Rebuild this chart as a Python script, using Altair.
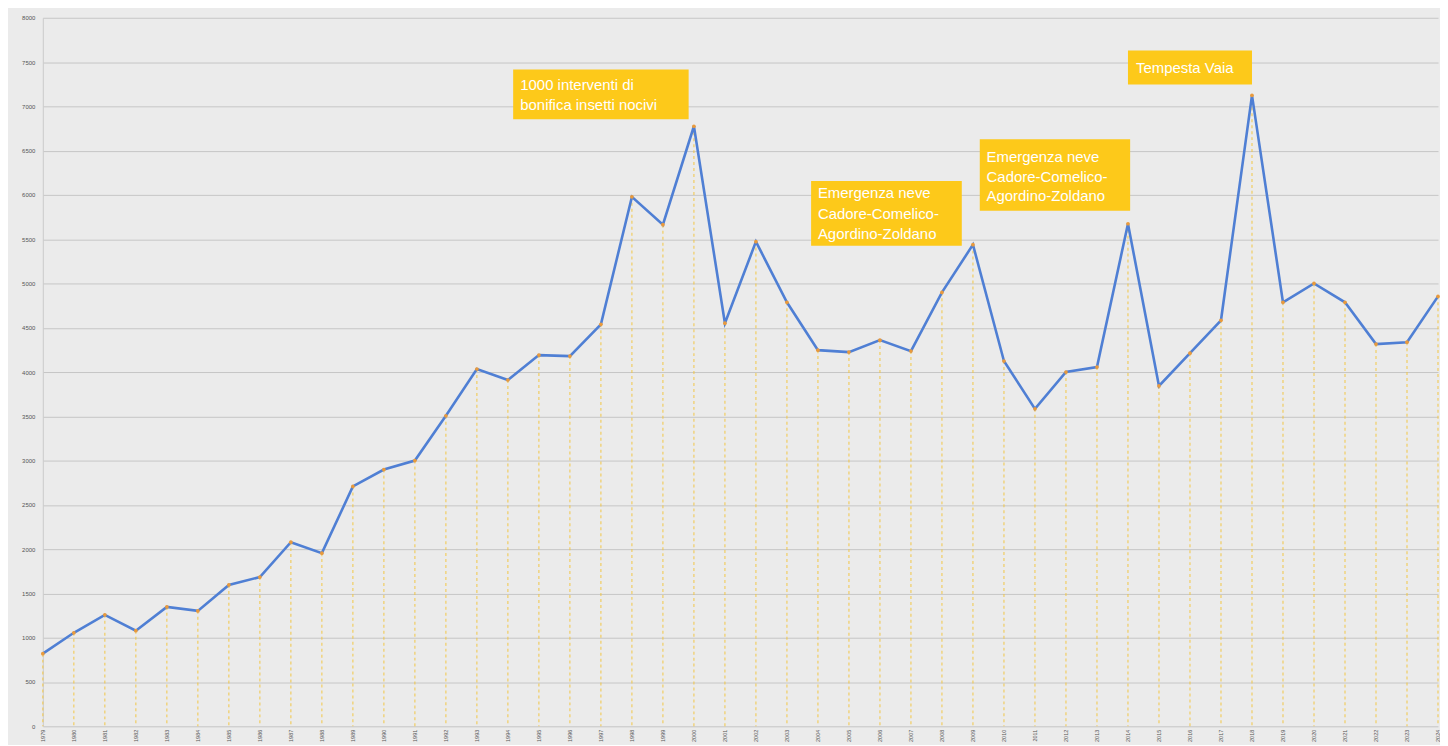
import altair as alt
import pandas as pd

years = list(range(1979, 2025))
values = [820, 1056, 1258, 1079, 1348, 1303, 1596, 1685, 2079, 1955,
          2708, 2899, 3000, 3506, 4034, 3910, 4191, 4180, 4539, 5978,
          5663, 6775, 4551, 5472, 4787, 4247, 4225, 4360, 4236, 4899,
          5438, 4124, 3584, 4000, 4056, 5674, 3843, 4213, 4584, 7124,
          4787, 5000, 4787, 4315, 4337, 4854]

# annotation boxes (in data units)
box_x = [1994.17, 2003.78, 2009.22, 2014.0]
box_x2 = [1999.83, 2008.64, 2014.07, 2018.0]
box_y = [7416, 6157, 6629, 7629]
box_y2 = [6854, 5427, 5820, 7247]

# annotation text lines
text_lines = ["1000 interventi di", "bonifica insetti nocivi",
              "Emergenza neve", "Cadore-Comelico-", "Agordino-Zoldano",
              "Emergenza neve", "Cadore-Comelico-", "Agordino-Zoldano",
              "Tempesta Vaia"]
text_x = [1994.4, 1994.4, 2004.0, 2004.0, 2004.0, 2009.44, 2009.44, 2009.44, 2014.26]
text_y = [7236, 7011, 6022, 5787, 5562, 6427, 6202, 5989, 7427]

y_ticks = list(range(0, 8001, 500))

df = pd.DataFrame({"year": years, "value": values, "base": [0] * len(years)})
boxes = pd.DataFrame({"x": box_x, "x2": box_x2, "y": box_y, "y2": box_y2})
texts = pd.DataFrame({"x": text_x, "y": text_y, "t": text_lines})

xs = alt.Scale(domain=[1979, 2024], nice=False, zero=False)
ys = alt.Scale(domain=[0, 8000], nice=False)

x_axis = alt.Axis(values=years, format="d", labelAngle=-90, labelFontSize=5.5,
                  labelColor="#555555", labelOverlap=False, labelBound=False,
                  labelFlush=False,
                  grid=False, ticks=False, domain=False, labelPadding=3, title=None,
                  labelFont="Liberation Sans")
y_axis = alt.Axis(values=y_ticks, format="d", labelFontSize=6, labelColor="#555555",
                  labelOverlap=False,
                  grid=True, gridColor="#c6c6c6", gridWidth=1, ticks=False,
                  domain=True, domainColor="#cccccc", labelPadding=8, title=None,
                  labelFont="Liberation Sans")

base = alt.Chart(df)

drops = base.mark_rule(color="#f2c640", strokeDash=[3, 3], strokeWidth=1.2, opacity=0.8).encode(
    x=alt.X("year:Q", scale=xs, axis=x_axis),
    y=alt.Y("value:Q", scale=ys, axis=y_axis),
    y2="base:Q",
)

line = base.mark_line(color="#4f7fd4", strokeWidth=2.6).encode(
    x=alt.X("year:Q", scale=xs, axis=x_axis),
    y=alt.Y("value:Q", scale=ys, axis=y_axis),
)

pts = base.mark_circle(color="#e99a3c", size=14, opacity=1).encode(
    x=alt.X("year:Q", scale=xs, axis=x_axis),
    y=alt.Y("value:Q", scale=ys, axis=y_axis),
)

rects = alt.Chart(boxes).mark_rect(color="#fdc91a").encode(
    x=alt.X("x:Q", scale=xs, axis=x_axis), x2="x2:Q",
    y=alt.Y("y:Q", scale=ys, axis=y_axis), y2="y2:Q",
)

labels = alt.Chart(texts).mark_text(align="left", baseline="middle", color="white",
                                     fontSize=15, font="Liberation Sans").encode(
    x=alt.X("x:Q", scale=xs, axis=x_axis),
    y=alt.Y("y:Q", scale=ys, axis=y_axis),
    text="t:N",
)

chart = alt.layer(drops, line, pts, rects, labels).properties(
    width=1402, height=712,
    autosize=alt.AutoSizeParams(type="none"),
    padding={"left": 35, "top": 8, "right": 2, "bottom": 17},
    background="#ebebeb",
).configure_view(strokeWidth=0).configure_axis(labelOverlap=False)

chart.save("out.html", embed_options={"renderer": "svg", "actions": False})
